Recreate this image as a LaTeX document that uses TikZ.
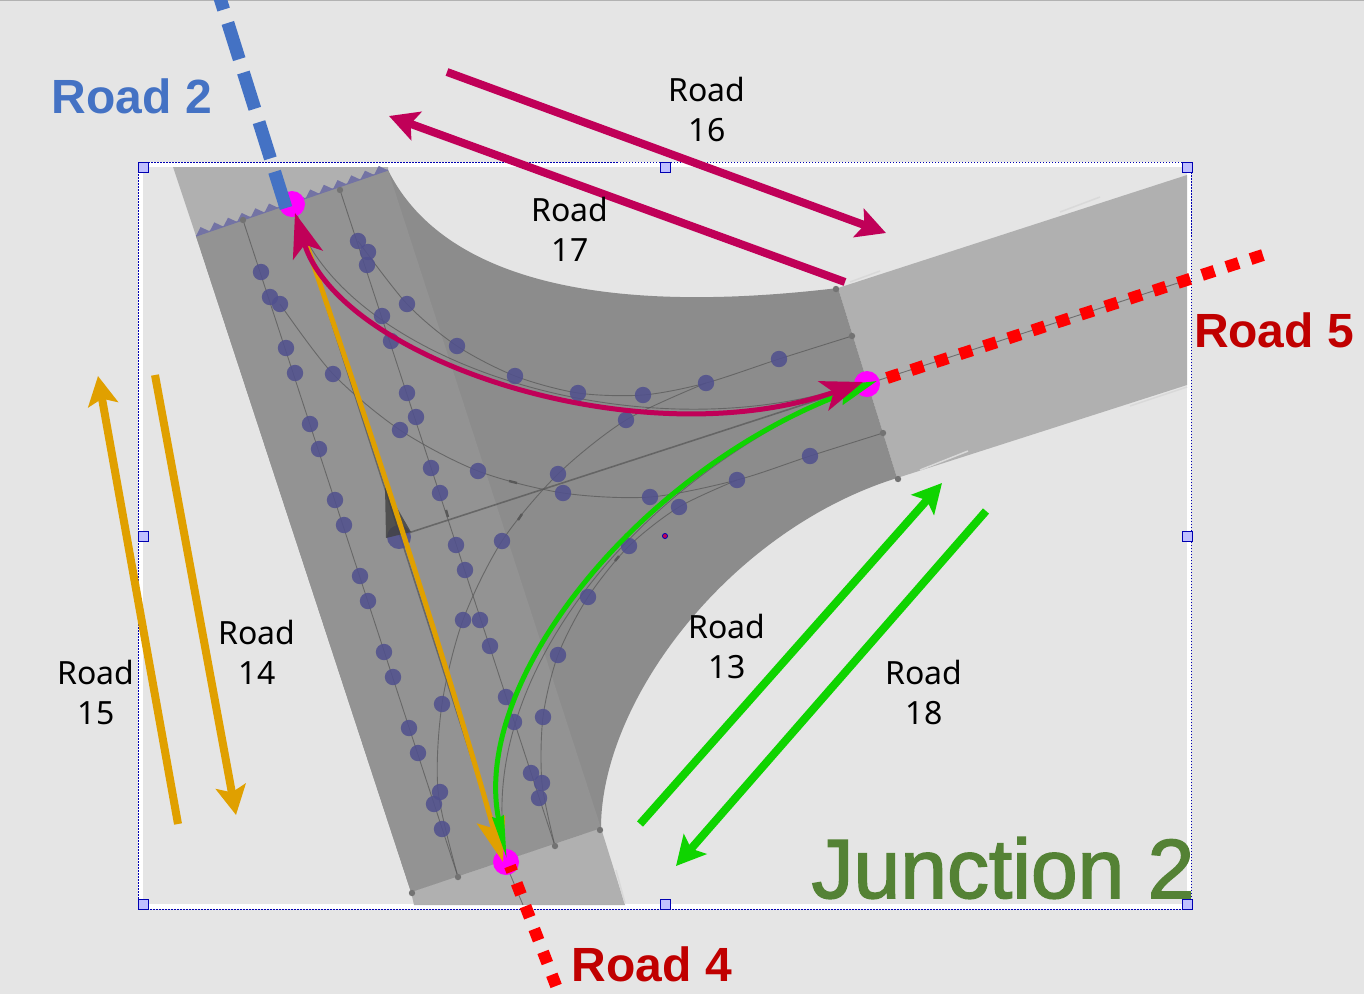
\documentclass[tikz,border=0pt]{standalone}
\usepackage{fontspec}
\setmainfont{Noto Sans}
\newfontfamily\titlefont{Liberation Sans}
\newfontfamily\junctionfont[FakeBold=1.8]{Liberation Sans}
\usetikzlibrary{arrows.meta}
\definecolor{pagegrey}{HTML}{E5E5E5}
\definecolor{roadlight}{HTML}{B0B0B0}
\definecolor{roaddark}{HTML}{8C8C8C}
\definecolor{roadband}{HTML}{939393}
\definecolor{dotblue}{HTML}{50508E}
\definecolor{crimson}{HTML}{C00058}
\definecolor{amber}{HTML}{E0A000}
\definecolor{brightgreen}{HTML}{0FD400}
\definecolor{titleblue}{HTML}{4472C4}
\definecolor{titlered}{HTML}{C00000}
\definecolor{titlegreen}{HTML}{548235}
\definecolor{endpink}{HTML}{FF00FF}
\begin{document}
\begin{tikzpicture}[
    x=1pt, y=-1pt,
    lane/.style={draw=black!65, line width=0.9pt, opacity=0.75},
    lanedot/.style={fill=dotblue, opacity=0.85},
    lanemark/.style={draw=black!65, line width=2.4pt},
    endmark/.style={fill=black!55},
    endpoint/.style={circle, fill=endpink, minimum size=26pt, inner sep=0pt},
    handle/.style={draw=blue!70!black, fill=blue!25, line width=1pt},
    sectionarrow/.style={line width=8pt, -{Stealth[length=29pt, width=30pt, inset=6pt]}},
    roadlabel/.style={font=\fontsize{32}{40}\selectfont, align=center, text=black},
    roadtitle/.style={font=\titlefont\fontsize{48}{50}\selectfont\bfseries}
]

% Page and frame
\fill[pagegrey] (0,0) rectangle (1364,994);
\useasboundingbox (0,0) rectangle (1364,994);
\draw[black!30, line width=1pt] (0,0.5) -- (1364,0.5);
\draw[white, line width=4.5pt] (140.5,164.5) rectangle (1189,906.5);
\draw[blue!70!black, line width=0.9pt, dash pattern=on 1.5pt off 1.5pt] (138,162) rectangle (1191,909);

% Road surface
\fill[roadlight] (173,167) -- (388,167) -- (388,170) -- (196,236) -- cycle;
\fill[roadlight] (838,288) -- (1187,175) -- (1187,385) -- (897,478) -- cycle;
\fill[roadlight] (411,892) -- (601,828) -- (625,905) -- (414,905) -- cycle;
\fill[roaddark] (196,236) -- (388,170) .. controls (435,265) and (570,320) .. (838,288)
    -- (897,478) .. controls (730,530) and (601,700) .. (601,828) -- (411,892) -- cycle;
\fill[roadband] (196,236) -- (388,170) -- (601,828) -- (411,892) -- cycle;
\draw[white!85!black, line width=1.5pt] (850,282) -- (880,271);
\draw[white!85!black, line width=1.5pt] (1060,212) -- (1100,197);
\draw[white!85!black, line width=1.5pt] (920,470) -- (968,451);
\draw[white!85!black, line width=1.5pt] (1130,406) -- (1187,387);
\draw[white!85!black, line width=1.5pt] (616,870) -- (625,903);

% Zigzag edge of the top road
\foreach \i [evaluate=\i as \zx using 196+\i*13.7, evaluate=\i as \zy using 236-\i*4.7] in {0,...,13} {
    \fill[dotblue!80!white] (\zx,\zy) -- ++(13.7,-4.7) -- ++(-9.15,-4.25) -- cycle;
}
\draw[dotblue!80!white, line width=1.2pt] (196,236) -- (388,170);

% Lanes
\draw[lane] (243,220) -- (458,877);
\draw[lane] (340,190) -- (555,846);
\draw[lane, line width=1.6pt] (296,212) -- (505,862);
\draw[lane, line width=1.6pt] (399,536) -- (867,384);
\draw[lane] plot[smooth] coordinates {(280,304) (333,374) (400,430) (478,471) (563,493) (650,497) (737,480) (810,456) (883,433)};
\draw[lane] plot[smooth] coordinates {(358,241) (407,304) (457,346) (515,376) (578,393) (643,395) (706,383) (779,359) (852,336)};
\draw[lane] plot[smooth] coordinates {(706,383) (626,420) (558,474) (502,541) (463,620) (442,704) (438,790) (458,877)};
\draw[lane] plot[smooth] coordinates {(737,480) (679,507) (629,546) (588,597) (558,655) (543,717) (542,783) (555,846)};
\draw[lane] (295,213) .. controls (340,360) and (640,460) .. (863,382);
\draw[lane] (507,860) .. controls (470,680) and (640,470) .. (867,384);
\draw[lane] (1187,280) -- (867,384);
\draw[lane] (523,905) -- (505,862);
\draw[lanemark] (509,481) -- (517,483);
\draw[lanemark] (518,520) -- (522,514);
\draw[lanemark] (446,510) -- (448,517);
\draw[lanemark] (588,580) -- (592,575);
\draw[lanemark] (615,561) -- (619,556);

% Lane ends
\foreach \ex/\ey in {243/220, 340/190, 458/877, 555/846, 412/893, 600/830, 852/336, 883/433, 836/289, 898/479} {
    \fill[endmark] (\ex,\ey) circle (3.2);
}

% Waypoints
\foreach \dx/\dy in {261/272, 270/297, 280/304, 286/348, 295/373, 310/424, 319/449, 335/500, 344/525, 360/576,
    368/601, 384/652, 393/677, 409/728, 418/753, 434/804, 442/829, 440/792,
    358/241, 368/252, 367/265, 382/316, 391/341, 407/393, 416/417, 431/468, 440/493, 456/545, 465/570,
    480/620, 490/646, 506/697, 514/722, 531/773, 539/798, 542/783,
    333/374, 400/430, 478/471, 563/493, 650/497, 737/480, 810/456,
    407/304, 457/346, 515/376, 578/393, 643/395, 706/383, 779/359,
    626/420, 558/474, 502/541, 463/620, 442/704,
    679/507, 629/546, 588/597, 558/655, 543/717} {
    \fill[lanedot] (\dx,\dy) circle (8.2);
}
\fill[lanedot] (399,537) circle (12);
\fill[black!75, opacity=0.8] (385,487) -- (411,532) -- (386,538) -- cycle;
\fill[blue!70!black] (665,536) circle (3);
\fill[crimson] (665,536) circle (2);

% Road end points
\node[endpoint] (endtwo) at (292,204) {};
\node[endpoint] (endfour) at (506,862) {};
\node[endpoint] (endfive) at (867,384) {};

% Road centre lines
\draw[titleblue, line width=13pt, dash pattern=on 38pt off 14pt] (286,208) -- (220,-2);
\draw[red, line width=12pt, dash pattern=on 13pt off 12.5pt] (887,378) -- (1263,255);
\draw[red, line width=12pt, dash pattern=on 12pt off 12.5pt, dash phase=6pt] (510,866) -- (560,996);

% Section arrows
\coordinate (sixteenstart) at (447,72);
\coordinate (sixteenend) at (886,233);
\coordinate (seventeenstart) at (845,282);
\coordinate (seventeenend) at (389,116);
\coordinate (fifteenstart) at (178,824);
\coordinate (fifteenend) at (98,376);
\coordinate (fourteenstart) at (155,375);
\coordinate (fourteenend) at (236,815);
\coordinate (thirteenstart) at (640,824);
\coordinate (thirteenend) at (942,483);
\coordinate (eighteenstart) at (986,511);
\coordinate (eighteenend) at (676,866);
\draw[sectionarrow, crimson] (sixteenstart) -- (sixteenend);
\draw[sectionarrow, crimson] (seventeenstart) -- (seventeenend);
\draw[sectionarrow, amber] (fifteenstart) -- (fifteenend);
\draw[sectionarrow, amber] (fourteenstart) -- (fourteenend);
\draw[sectionarrow, brightgreen] (thirteenstart) -- (thirteenend);
\draw[sectionarrow, brightgreen] (eighteenstart) -- (eighteenend);

% Route arrows
\coordinate (routetwo) at (295,213);
\coordinate (routefour) at (507,860);
\coordinate (routefive) at (863,382);
\coordinate (routeamber) at (503,862);
\draw[amber, line width=5pt, -{Stealth[length=44pt, width=29pt, inset=9pt]}] (300,225) .. controls (370,430) and (440,640) .. (routeamber);
\draw[brightgreen, line width=5pt, {Stealth[length=44pt, width=11pt, inset=2pt]}-{Stealth[length=40pt, width=20pt, inset=4pt]}] (routefour) .. controls (470,680) and (640,470) .. (877,381);
\draw[crimson, line width=5pt, {Stealth[length=44pt, width=31pt, inset=11pt]}-{Stealth[length=42pt, width=31pt, inset=11pt]}] (routetwo) .. controls (340,360) and (640,460) .. (routefive);

% Handles
\foreach \hx/\hy in {143/167, 665/167, 1187/167, 143/536, 1187/536, 143/904, 665/904, 1187/904} {
    \draw[handle] (\hx-5,\hy-5) rectangle (\hx+5,\hy+5);
}

% Labels
\node[roadlabel] (roadsixteen) at (707,109) {Road\\16};
\node[roadlabel] (roadseventeen) at (570,229) {Road\\17};
\node[roadlabel] (roadfourteen) at (257,652) {Road\\14};
\node[roadlabel] (roadfifteen) at (96,692) {Road\\15};
\node[roadlabel] (roadthirteen) at (727,646) {Road\\13};
\node[roadlabel] (roadeighteen) at (924,692) {Road\\18};
\node[roadtitle, text=titleblue] (roadtwo) at (132,96) {Road 2};
\node[roadtitle, text=titlered] (roadfive) at (1274,330) {Road 5};
\node[roadtitle, text=titlered] (roadfour) at (652,964) {Road 4};
\node[font=\junctionfont\fontsize{84}{90}\selectfont, text=titlegreen] (junctiontwo) at (1003,868) {Junction 2};

\end{tikzpicture}
\end{document}
